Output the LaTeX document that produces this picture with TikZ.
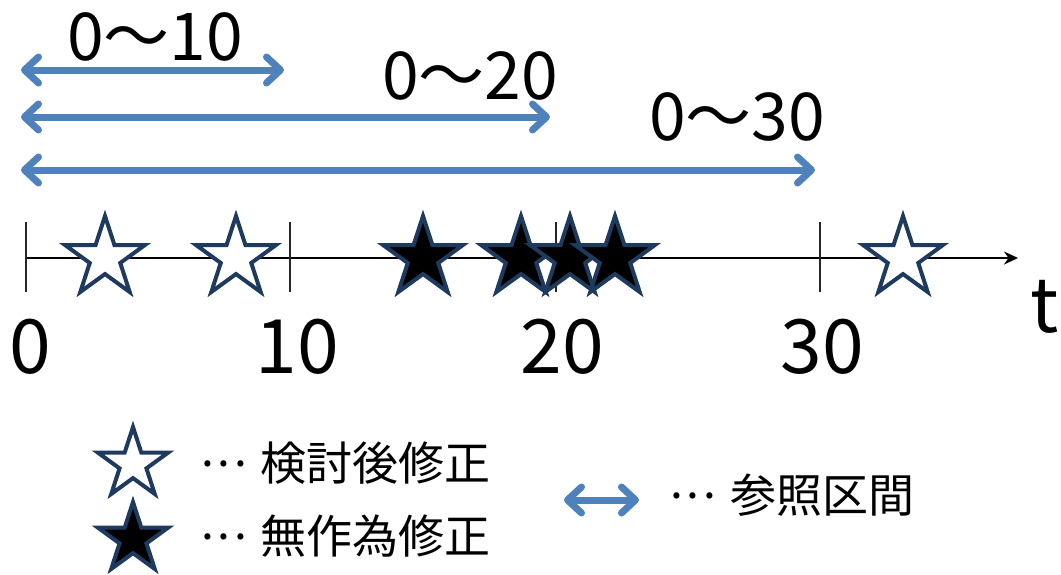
\documentclass[tikz,border=0pt]{standalone}
\usepackage{fontspec}
\setmainfont{Noto Sans CJK JP}
\usetikzlibrary{arrows.meta,shapes.geometric}
\definecolor{refblue}{HTML}{4F81BD}
\definecolor{starline}{HTML}{1F3A5F}
\newcommand{\middots}{\raisebox{14pt}{.\hspace{4pt}.\hspace{4pt}.}}
\tikzset{
  refarrow/.style={draw=refblue, line width=7pt, line cap=round,
    {Straight Barb[length=14pt,width=26pt,line cap=round,line join=round]}-{Straight Barb[length=14pt,width=26pt,line cap=round,line join=round]}},
  starbase/.style={star, star points=5, star point ratio=2.618, inner sep=0pt, draw=starline, line width=4pt, line join=miter},
  whitestar/.style={starbase, fill=white, minimum size=84pt},
  blackstar/.style={starbase, fill=black, minimum size=84pt},
  tickline/.style={draw=black!85, line width=1.5pt},
  toplabel/.style={anchor=base, inner sep=0pt, font=\fontsize{66}{70}\selectfont},
  axlabel/.style={anchor=base, inner sep=0pt, font=\fontsize{75}{80}\selectfont},
  legtext/.style={anchor=base west, inner sep=0pt, font=\fontsize{46}{50}\selectfont},
}
\begin{document}
\begin{tikzpicture}[x=1pt,y=-1pt]
\useasboundingbox (0,0) rectangle (1061,574);
% axis
\coordinate (axs) at (25,258);
\coordinate (axe) at (1018,258);
\draw[line width=2pt, -{Stealth[length=14pt,width=13pt]}] (axs) -- (axe);
\foreach \x/\n in {26/t0,290/t10,556/t20,820/t30}{
  \coordinate (\n a) at (\x,222);
  \coordinate (\n b) at (\x,292);
  \draw[tickline] (\n a) -- (\n b);
}
% stars on axis
\node[whitestar] (w1) at (105,258) {};
\node[whitestar] (w2) at (236,258) {};
\node[whitestar] (w3) at (903,258) {};
\node[blackstar] (b1) at (423,258) {};
\node[blackstar] (b2) at (521,258) {};
\node[blackstar] (b3) at (570,258) {};
\node[blackstar] (b4) at (615,258) {};
% axis labels
\node[axlabel] (l0) at (30,373) {0};
\node[axlabel] (l10) at (297,373) {10};
\node[axlabel] (l20) at (562,373) {20};
\node[axlabel] (l30) at (822,373) {30};
\node[axlabel] (lt) at (1045,332) {t};
% reference arrows
\coordinate (a1l) at (21,70);
\coordinate (a1r) at (284,70);
\coordinate (a2l) at (21,117);
\coordinate (a2r) at (550,117);
\coordinate (a3l) at (21,170);
\coordinate (a3r) at (815,170);
\draw[refarrow] (a1l) -- (a1r);
\draw[refarrow] (a2l) -- (a2r);
\draw[refarrow] (a3l) -- (a3r);
\node[toplabel] (r1) at (155,60) {0～10};
\node[toplabel] (r2) at (470,99) {0～20};
\node[toplabel] (r3) at (737,140) {0～30};
% legend
\node[starbase, fill=white, minimum size=74pt] (lw) at (133,464) {};
\node[starbase, fill=black, minimum size=74pt] (lb) at (133,539) {};
\node[legtext] (d1) at (201,480) {\middots};
\node[legtext] (x1) at (260,480) {検討後修正};
\node[legtext] (d2) at (201,553) {\middots};
\node[legtext] (x2) at (260,553) {無作為修正};
\coordinate (lal) at (564,500);
\coordinate (lar) at (639,500);
\draw[refarrow] (lal) -- (lar);
\node[legtext] (d3) at (670,512) {\middots};
\node[legtext] (x3) at (730,512) {参照区間};
\end{tikzpicture}
\end{document}
